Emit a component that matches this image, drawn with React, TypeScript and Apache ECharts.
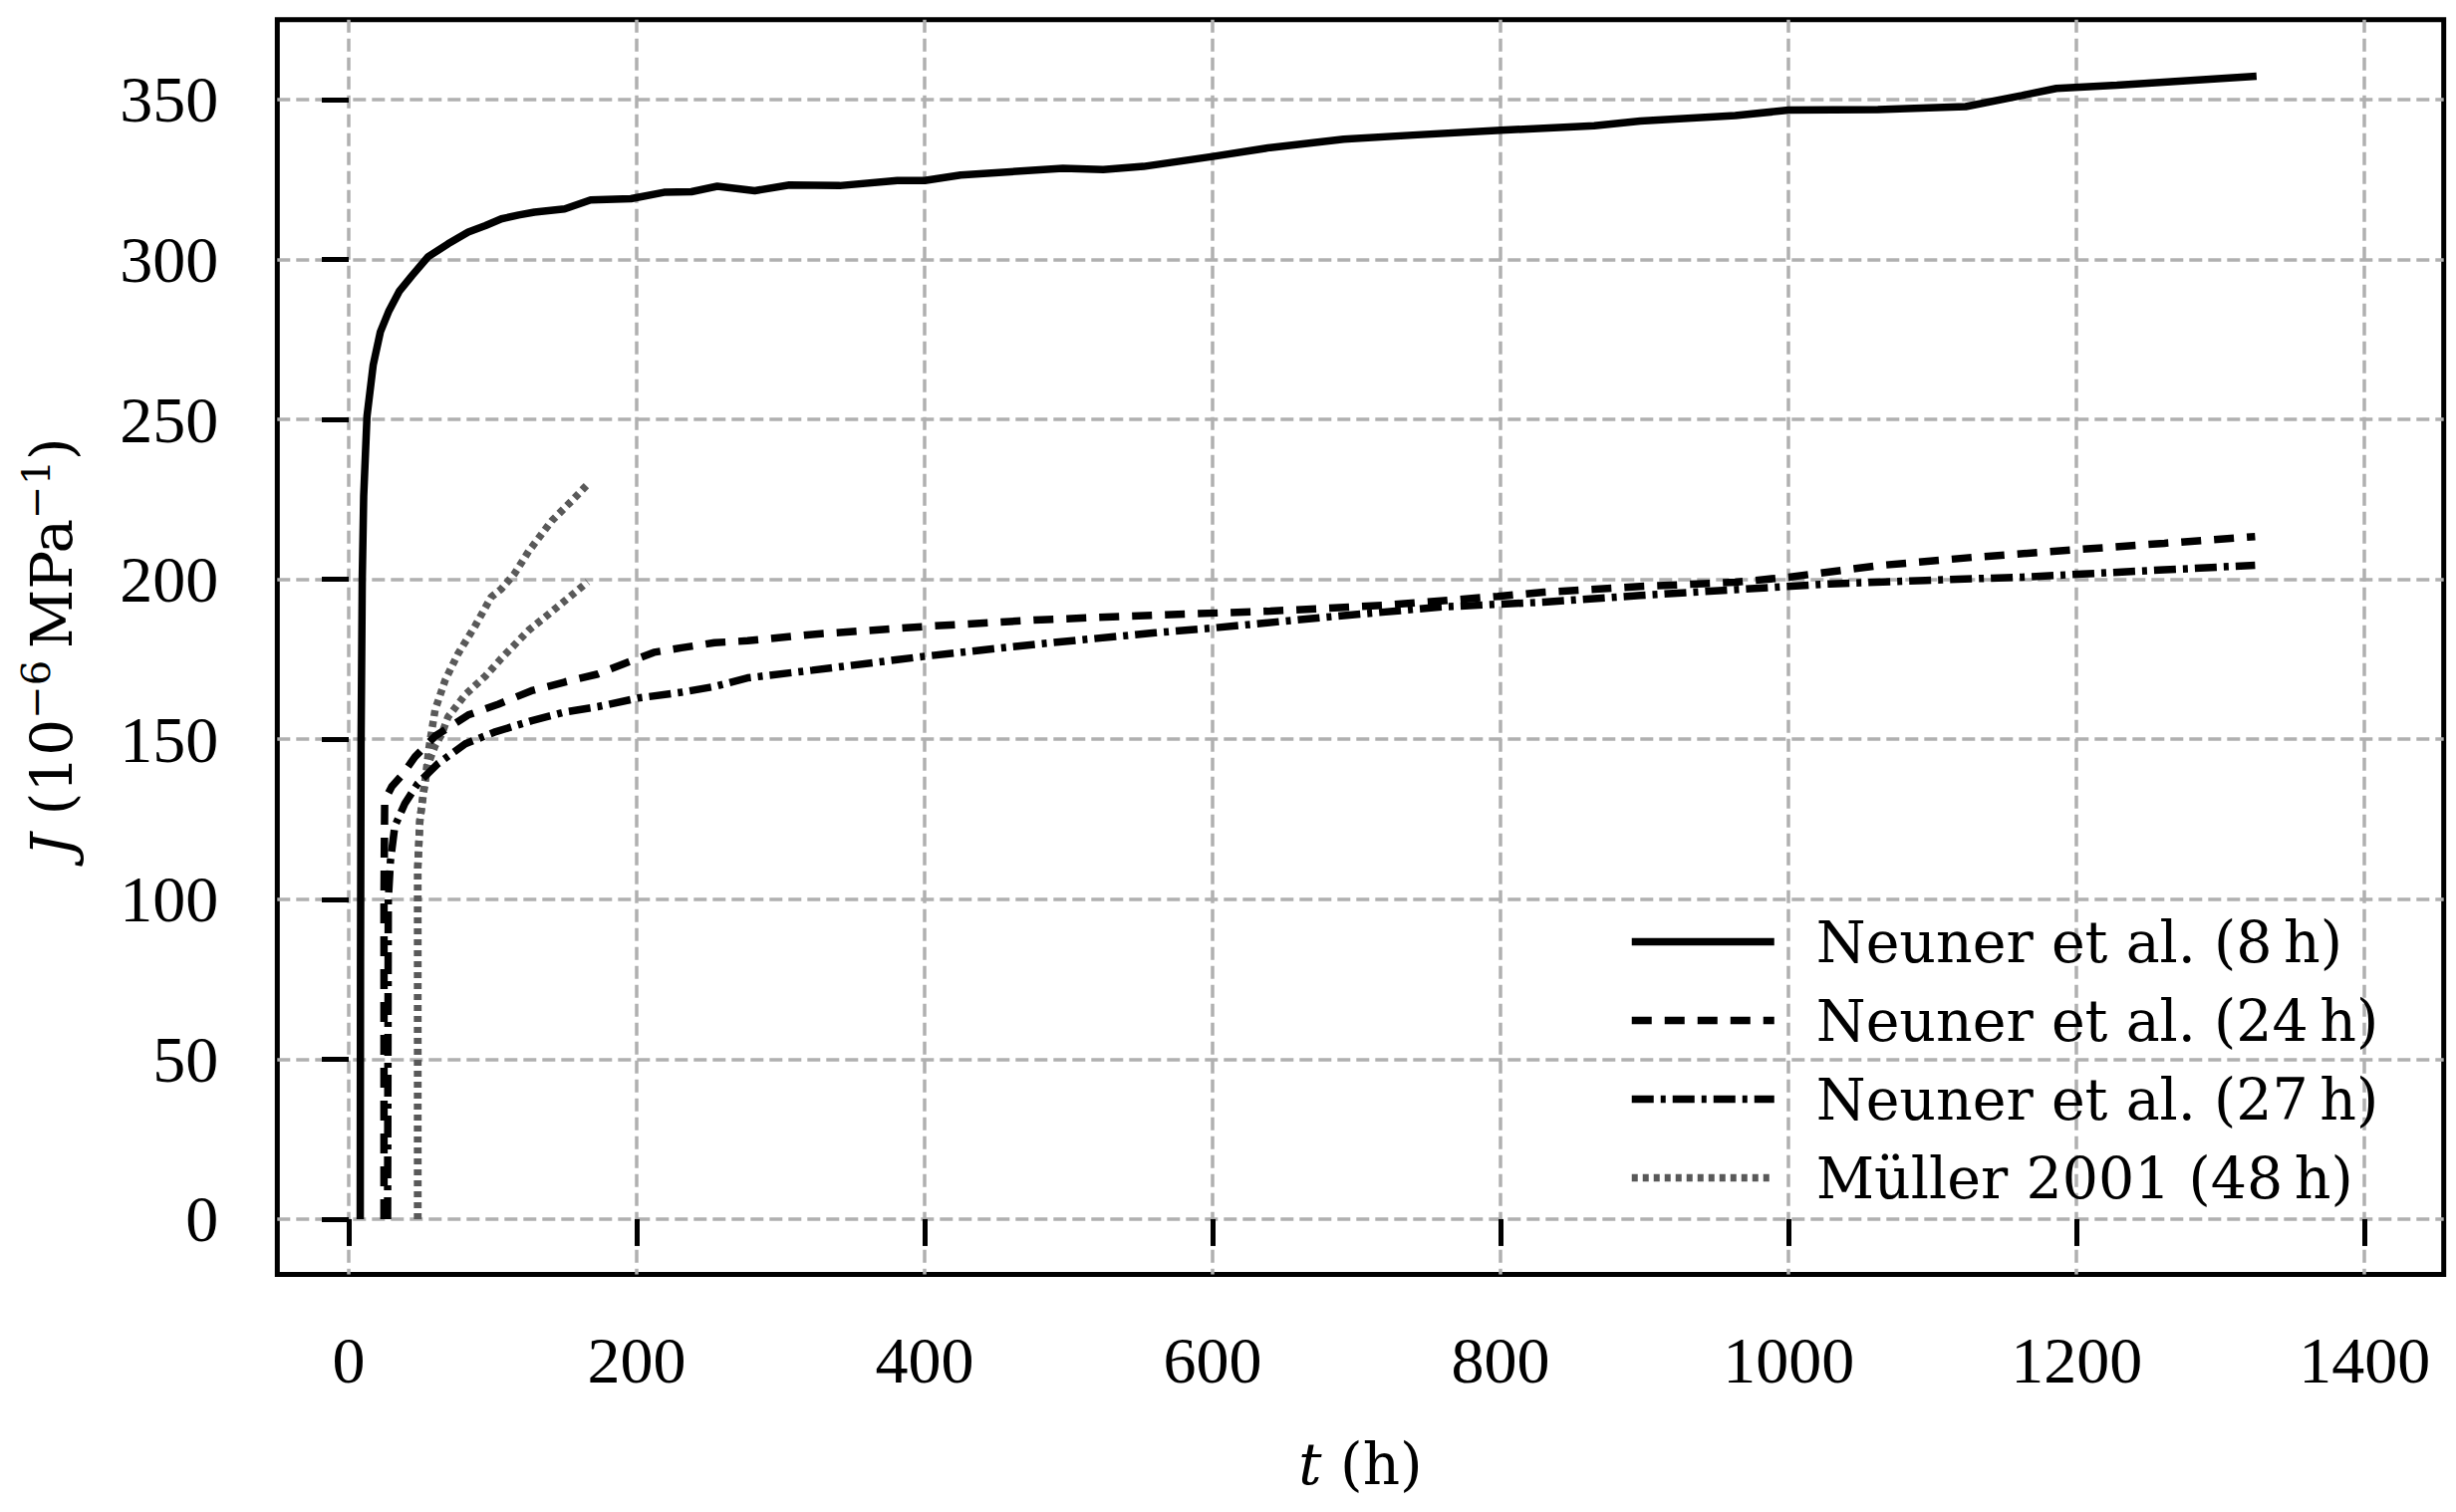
import React, { useEffect, useRef } from "react";
import * as echarts from "echarts";

// ---- data (t in h, J in 1e-6 / MPa) ----
const xTicks = [0, 200, 400, 600, 800, 1000, 1200, 1400];
const yTicks = [0, 50, 100, 150, 200, 250, 300, 350];

const neuner8h: number[][] = [
  [8, 0], [8.2, 80], [8.6, 150], [9.4, 200], [10.4, 226], [12.7, 251], [17, 267], [22, 277.4],
  [28, 284], [35, 290], [44, 295], [55, 300.8], [69, 304.9], [83, 308.6], [95, 310.6],
  [106, 312.7], [118, 313.9], [129, 314.8], [150, 315.8], [168, 318.6], [196, 319],
  [219, 321], [238, 321.2], [256, 322.9], [282, 321.5], [306, 323.3], [341, 323.1],
  [381, 324.7], [400, 324.7], [425, 326.4], [496, 328.5], [524, 328.1], [552, 329.1],
  [600, 332.2], [640, 335], [691, 337.6], [739, 338.9], [800, 340.4], [865, 341.8],
  [897, 343.3], [963, 345], [1000, 346.7], [1062, 346.9], [1123, 347.8], [1162, 351.3],
  [1186, 353.5], [1228, 354.5], [1325, 357.3],
];

const neuner24h: number[][] = [
  [24.5, 0], [24.5, 100], [25, 131], [30, 135.3], [37, 138.8], [46, 144.5], [60, 151],
  [83, 157.6], [104, 161], [127, 165.2], [150, 167.9], [173, 170.4], [191, 173.6],
  [212, 177.2], [231, 178.6], [254, 180.2], [277, 180.8], [322, 182.8], [401, 185.3],
  [481, 187.4], [560, 188.8], [640, 190.1], [719, 191.9], [798, 194.7], [830, 196],
  [897, 197.8], [963, 199.1], [1000, 200.7], [1062, 204.3], [1128, 206.9], [1200, 209.3],
  [1261, 211.3], [1324, 213.4],
];

const neuner27h: number[][] = [
  [27, 0], [27.5, 100], [29, 112], [32, 122.8], [39, 129.9], [48, 136.2], [62, 142.4],
  [81, 148.6], [101, 152.2], [127, 155.8], [150, 158.5], [173, 160.2], [201, 162.9],
  [231, 164.7], [254, 166.5], [277, 169.2], [322, 171.6], [401, 176], [481, 179.9],
  [560, 183.3], [600, 184.8], [679, 188.2], [759, 191.4], [830, 192.9], [897, 195],
  [963, 196.8], [1029, 198.6], [1095, 199.7], [1162, 200.7], [1200, 201.6], [1261, 203],
  [1324, 204.4],
];

const mueller48hA: number[][] = [
  [48, 0], [48, 110], [49.4, 124.5], [52, 133.5], [54, 140.6], [56, 148], [60, 159.2],
  [67, 168.5], [76, 176.8], [88, 185.6], [99, 194.5], [106, 197], [115, 201.7],
  [125, 208.8], [141, 218.3], [155, 224.6], [167, 230.2],
];

const mueller48hB: number[][] = [
  [48, 0], [48, 110], [49.4, 124.5], [52, 133.5], [55, 142], [60, 148], [64.5, 151.5],
  [69, 157], [81, 164], [95, 169.8], [106, 175.3], [125, 184.1], [138, 188.8],
  [152, 194], [166, 199.2],
];

const names = [
  "Neuner et al. (8\u2009h)",
  "Neuner et al. (24\u2009h)",
  "Neuner et al. (27\u2009h)",
  "M\u00fcller 2001 (48\u2009h)",
];

const TICK_FONT = "'Liberation Serif', serif";
const TEXT_FONT = "'DejaVu Serif', serif";
const LW = 7.5;

export default function App() {
  const ref = useRef<HTMLDivElement>(null);

  useEffect(() => {
    if (!ref.current) return;
    const chart = echarts.init(ref.current, null, { renderer: "svg" });

    const gridLine = { color: "#b0b0b0", width: 3.5, type: [13, 6] as number[] };

    const option: any = {
      animation: false,
      backgroundColor: "#ffffff",
      grid: {
        left: 278.3,
        top: 19.7,
        right: 12.3,
        bottom: 238.5,
        containLabel: false,
        outerBoundsMode: "none",
        show: true,
        borderColor: "#000000",
        borderWidth: 5,
        backgroundColor: "transparent",
      },
      xAxis: {
        type: "value",
        min: -49.6,
        max: 1455,
        axisLine: { show: false },
        axisTick: {
          show: true,
          inside: false,
          length: 27,
          lineStyle: { color: "#000", width: 5 },
          customValues: xTicks,
        },
        axisLabel: {
          show: true,
          margin: 53,
          color: "#000",
          fontFamily: TICK_FONT,
          fontSize: 66,
          customValues: xTicks,
          formatter: (v: number) => String(v),
        },
        splitLine: { show: true, lineStyle: gridLine },
        name: "{i|t} (h)",
        nameLocation: "middle",
        nameGap: 161,
        nameTextStyle: {
          color: "#000",
          fontFamily: TEXT_FONT,
          fontSize: 58,
          rich: {
            i: { fontFamily: TEXT_FONT, fontSize: 58, fontStyle: "italic", color: "#000" },
          },
        },
      },
      yAxis: {
        type: "value",
        min: -17.3,
        max: 375,
        axisLine: { show: false },
        axisTick: {
          show: true,
          inside: false,
          length: 27,
          lineStyle: { color: "#000", width: 5 },
          customValues: yTicks,
        },
        axisLabel: {
          show: true,
          margin: 59,
          color: "#000",
          fontFamily: TICK_FONT,
          fontSize: 66,
          customValues: yTicks,
          formatter: (v: number) => String(v),
        },
        splitLine: { show: true, lineStyle: gridLine },
        name: "{i|J} (10{sup|\u22126}\u2009MPa{sup|\u22121})",
        nameLocation: "middle",
        nameRotate: 90,
        nameGap: 226,
        nameTextStyle: {
          color: "#000",
          fontFamily: TEXT_FONT,
          fontSize: 58,
          lineHeight: 72,
          verticalAlign: "middle",
          rich: {
            i: { fontFamily: TEXT_FONT, fontSize: 58, lineHeight: 72, fontStyle: "italic", color: "#000" },
            sup: { fontFamily: TEXT_FONT, fontSize: 40, lineHeight: 40, verticalAlign: "top", color: "#000" },
          },
        },
      },
      legend: {
        show: true,
        orient: "vertical",
        left: 1629,
        top: 909,
        padding: 5,
        itemWidth: 143,
        itemHeight: 1,
        itemGap: 16,
        data: [names[0], names[1], names[2], names[3]],
        itemStyle: { opacity: 0 },
        lineStyle: { width: LW },
        textStyle: {
          color: "#000",
          fontFamily: TEXT_FONT,
          fontSize: 57,
          lineHeight: 63,
          padding: [0, 0, 0, 37],
        },
        selectedMode: false,
      },
      series: [
        {
          name: names[0],
          type: "line",
          data: neuner8h,
          symbol: "none",
          showSymbol: false,
          lineStyle: { color: "#000", width: LW, type: "solid" },
          itemStyle: { color: "#000" },
          z: 5,
        },
        {
          name: names[1],
          type: "line",
          data: neuner24h,
          symbol: "none",
          showSymbol: false,
          lineStyle: { color: "#000", width: LW, type: [20, 13], cap: "butt" },
          itemStyle: { color: "#000" },
          z: 5,
        },
        {
          name: names[2],
          type: "line",
          data: neuner27h,
          symbol: "none",
          showSymbol: false,
          lineStyle: { color: "#000", width: LW, type: [22, 7, 5, 7], cap: "butt" },
          itemStyle: { color: "#000" },
          z: 5,
        },
        {
          name: names[3],
          type: "line",
          data: mueller48hA,
          symbol: "none",
          showSymbol: false,
          lineStyle: { color: "#595959", width: LW, type: [6, 5], cap: "butt" },
          itemStyle: { color: "#595959" },
          z: 4,
        },
        {
          name: names[3],
          type: "line",
          data: mueller48hB,
          symbol: "none",
          showSymbol: false,
          lineStyle: { color: "#595959", width: LW, type: [6, 5], cap: "butt" },
          itemStyle: { color: "#595959" },
          z: 4,
        },
      ],
    };

    chart.setOption(option);
    return () => chart.dispose();
  }, []);

  return (
    <div
      ref={ref}
      style={{ position: "fixed", left: 0, top: 0, width: "2465px", height: "1518px", background: "#fff" }}
    />
  );
}
